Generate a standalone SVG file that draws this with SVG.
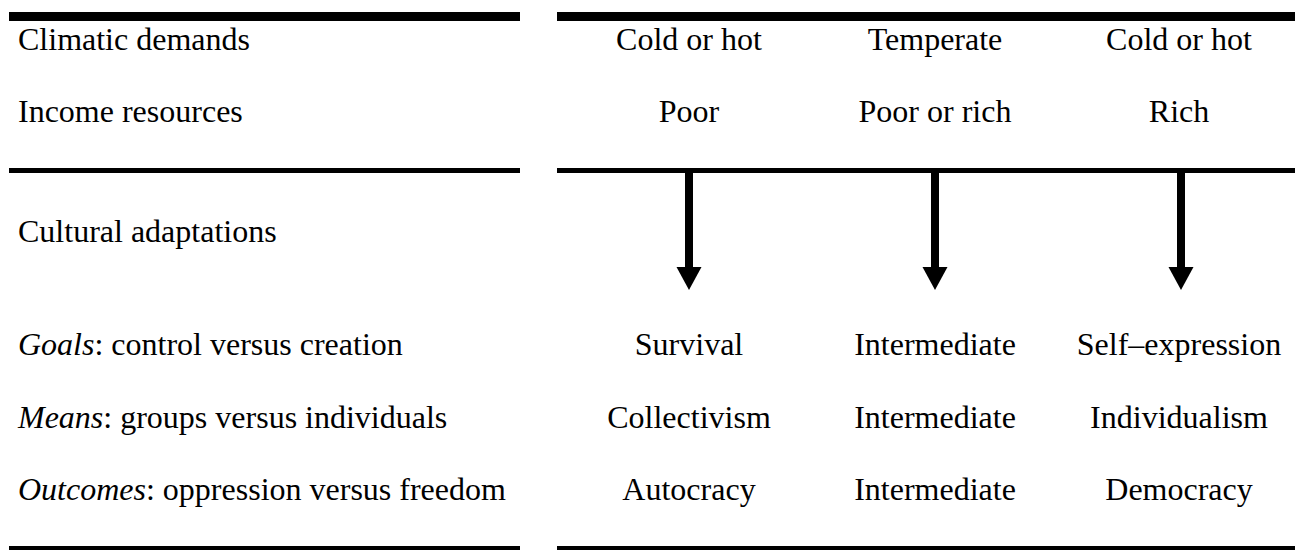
<svg xmlns="http://www.w3.org/2000/svg" width="1299" height="550" viewBox="0 0 1299 550">
<defs>
<style>
text{font-family:"Liberation Serif","Times New Roman",serif;font-size:32px;fill:#000}
.c{text-anchor:middle}
.rule{fill:#000}
.shaft{stroke:#000;stroke-width:8}
.head{fill:#000}
</style>
</defs>
<rect width="1299" height="550" fill="#fff"/>
<g id="rules">
<rect class="rule" x="9" y="12" width="511" height="9"/>
<rect class="rule" x="557" y="12" width="738" height="9"/>
<rect class="rule" x="9" y="168" width="511" height="5"/>
<rect class="rule" x="557" y="168" width="738" height="5"/>
<rect class="rule" x="9" y="546" width="511" height="4"/>
<rect class="rule" x="557" y="546" width="738" height="4"/>
</g>
<g id="row-labels">
<text x="18" y="50">Climatic demands</text>
<text x="18" y="122">Income resources</text>
<text x="18" y="242">Cultural adaptations</text>
<text x="18" y="355"><tspan font-style="italic">Goals</tspan>: control versus creation</text>
<text x="18" y="428"><tspan font-style="italic">Means</tspan>: groups versus individuals</text>
<text x="18" y="500"><tspan font-style="italic">Outcomes</tspan>: oppression versus freedom</text>
</g>
<g id="col1">
<text class="c" x="689" y="50">Cold or hot</text>
<text class="c" x="689" y="122">Poor</text>
<text class="c" x="689" y="355">Survival</text>
<text class="c" x="689" y="428">Collectivism</text>
<text class="c" x="689" y="500">Autocracy</text>
</g>
<g id="col2">
<text class="c" x="935" y="50">Temperate</text>
<text class="c" x="935" y="122">Poor or rich</text>
<text class="c" x="935" y="355">Intermediate</text>
<text class="c" x="935" y="428">Intermediate</text>
<text class="c" x="935" y="500">Intermediate</text>
</g>
<g id="col3">
<text class="c" x="1179" y="50">Cold or hot</text>
<text class="c" x="1179" y="122">Rich</text>
<text class="c" x="1179" y="355">Self–expression</text>
<text class="c" x="1179" y="428">Individualism</text>
<text class="c" x="1179" y="500">Democracy</text>
</g>
<g id="connectors">
<line class="shaft" x1="689" y1="173" x2="689" y2="268"/>
<polygon class="head" points="676.5,267 701.5,267 689,290"/>
<line class="shaft" x1="935" y1="173" x2="935" y2="268"/>
<polygon class="head" points="922.5,267 947.5,267 935,290"/>
<line class="shaft" x1="1181" y1="173" x2="1181" y2="268"/>
<polygon class="head" points="1168.5,267 1193.5,267 1181,290"/>
</g>
</svg>
